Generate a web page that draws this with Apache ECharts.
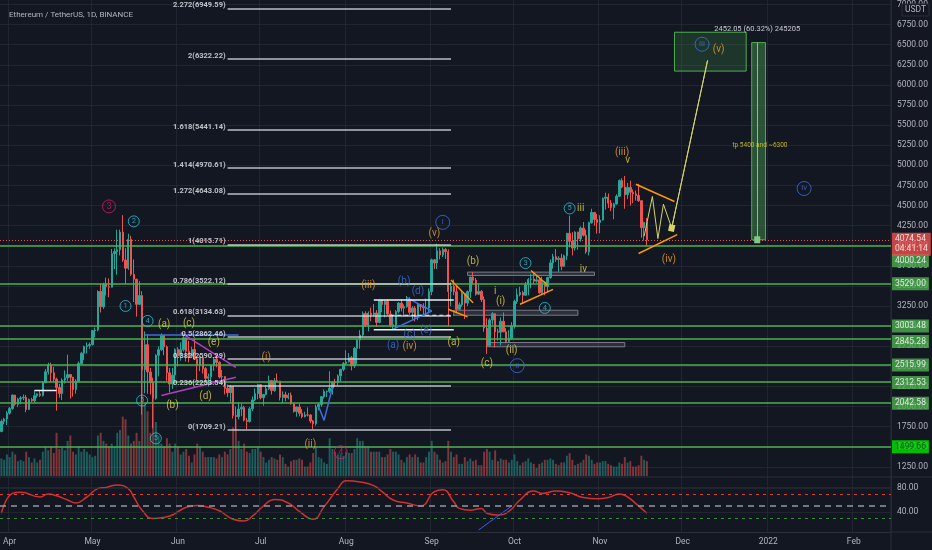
<!DOCTYPE html>
<html>
<head>
<meta charset="utf-8">
<title>ETHUSDT 1D</title>
<script src="https://cdn.jsdelivr.net/npm/echarts/dist/echarts.min.js"></script>
<style>
  html, body { margin: 0; padding: 0; background: #131722; }
  #chart { width: 932px; height: 550px; }
</style>
</head>
<body>
<div id="chart"></div>
<script>
// ---- data (daily candles 2021-03-29 .. 2021-11-18) ----
const firstDay = "2021-03-29";
const lastDay = "2022-02-14";
const firstOpen = 1691;

const closes = [
  1817, 1846, 1918,
  1977, 2143, 2028, 2093, 2108, 2115, 1964, 2088, 2071, 2135, 2158, 2139, 2299, 2432, 2514, 2420, 2340, 2236, 2163, 2330, 2357, 2398, 2364, 2211, 2316, 2535, 2664, 2746, 2757, 2772,
  2945, 2951, 3431, 3240, 3522, 3490, 3485, 3902, 3928, 3950, 4169, 3822, 3721, 4080, 3645, 3583, 3271, 3380, 2457, 2770, 2431, 2297, 2102, 2638, 2707, 2886, 2743, 2420, 2280, 2392, 2710,
  2630, 2707, 2855, 2688, 2630, 2711, 2590, 2515, 2610, 2472, 2352, 2372, 2510, 2590, 2549, 2367, 2373, 2228, 2172, 2250, 1890, 1875, 1970, 1990, 1830, 1816, 1972, 2083, 2161, 2273,
  2110, 2151, 2221, 2323, 2199, 2322, 2316, 2115, 2147, 2110, 2140, 2035, 1940, 1995, 1916, 1875, 1896, 1895, 1820, 1786, 1994, 2026, 2123, 2187, 2190, 2230, 2300, 2298, 2381, 2463, 2535,
  2555, 2608, 2507, 2725, 2827, 2890, 3157, 3013, 3163, 3140, 3164, 3047, 3323, 3268, 3310, 3150, 3012, 3018, 3182, 3287, 3225, 3242, 3321, 3172, 3225, 3112, 3268, 3244, 3226, 3226, 3430,
  3825, 3785, 3937, 3886, 3953, 3926, 3430, 3497, 3427, 3210, 3265, 3407, 3287, 3430, 3611, 3571, 3398, 3432, 3330, 2977, 2758, 3078, 3155, 2930, 2925, 3060, 2930, 2808, 2850, 3000,
  3307, 3390, 3419, 3385, 3515, 3580, 3587, 3560, 3576, 3415, 3545, 3493, 3605, 3787, 3865, 3830, 3845, 3745, 3875, 4155, 4055, 3972, 4170, 4085, 4220, 4130, 3925, 4285, 4415, 4325, 4290,
  4320, 4590, 4605, 4530, 4475, 4520, 4615, 4810, 4730, 4635, 4725, 4665, 4645, 4625, 4560, 4225, 4290, 4074.54
];
const highs = [
  1840, 1861, 1943,
  1995, 2150, 2145, 2110, 2130, 2150, 2145, 2100, 2109, 2200, 2165, 2200, 2315, 2468, 2545, 2546, 2495, 2360, 2282, 2350, 2450, 2645, 2405, 2370, 2340, 2560, 2680, 2758, 2799, 2798,
  2950, 2983, 3446, 3530, 3540, 3604, 3594, 3960, 3968, 4200, 4200, 4380, 3970, 4149, 4123, 3829, 3590, 3560, 3435, 2935, 2900, 2480, 2360, 2650, 2750, 2910, 2890, 2760, 2480, 2480, 2725,
  2740, 2800, 2890, 2860, 2817, 2744, 2840, 2620, 2645, 2620, 2490, 2410, 2520, 2610, 2630, 2565, 2455, 2375, 2275, 2265, 2255, 2000, 2050, 2035, 2010, 1860, 1995, 2125, 2225, 2285,
  2278, 2156, 2265, 2385, 2324, 2355, 2410, 2320, 2190, 2185, 2170, 2175, 2045, 2000, 2035, 1968, 1935, 1990, 1905, 1833, 2025, 2040, 2130, 2215, 2200, 2440, 2317, 2345, 2400, 2470, 2555,
  2700, 2665, 2630, 2740, 2840, 2950, 3183, 3185, 3185, 3230, 3275, 3200, 3325, 3330, 3325, 3335, 3195, 3135, 3200, 3300, 3335, 3270, 3375, 3360, 3250, 3250, 3285, 3275, 3285, 3345, 3470,
  3840, 3835, 4025, 3970, 3978, 3970, 3955, 3545, 3580, 3510, 3295, 3445, 3410, 3445, 3615, 3675, 3600, 3530, 3450, 3370, 3100, 3100, 3175, 3160, 2970, 3110, 3170, 2975, 2950, 3050,
  3330, 3470, 3490, 3440, 3550, 3600, 3650, 3660, 3630, 3615, 3615, 3560, 3615, 3830, 3900, 3960, 3870, 3900, 3890, 4160, 4375, 4170, 4180, 4175, 4240, 4295, 4200, 4300, 4460, 4420, 4395,
  4380, 4600, 4660, 4650, 4570, 4535, 4640, 4825, 4840, 4868, 4780, 4810, 4700, 4685, 4770, 4565, 4300, 4345
];
const lows = [
  1680, 1780, 1770,
  1900, 1960, 2010, 1996, 2030, 2080, 1930, 1960, 2057, 2050, 2110, 2120, 2125, 2290, 2400, 2305, 2305, 1950, 2112, 2080, 2287, 2320, 2100, 2125, 2160, 2300, 2520, 2580, 2660, 2720,
  2760, 2860, 2935, 3170, 3215, 3380, 3360, 3481, 3710, 3640, 3880, 3799, 3527, 3700, 3624, 3300, 3120, 3260, 1900, 2165, 2160, 2150, 1730, 2085, 2375, 2690, 2640, 2320, 2175, 2220, 2300,
  2500, 2570, 2685, 2560, 2550, 2616, 2580, 2330, 2440, 2410, 2300, 2250, 2320, 2445, 2490, 2350, 2315, 2150, 2120, 2050, 1850, 1700, 1840, 1880, 1815, 1720, 1800, 1945, 2070, 2090,
  2090, 2012, 2140, 2205, 2150, 2185, 2300, 2075, 2045, 2065, 2090, 2025, 1925, 1875, 1880, 1855, 1865, 1877, 1793, 1718, 1763, 1955, 1998, 2100, 2120, 2170, 2150, 2250, 2265, 2315, 2440,
  2515, 2547, 2450, 2480, 2530, 2720, 2870, 2990, 2935, 3060, 3120, 2990, 3035, 3175, 3110, 3130, 2985, 2950, 2960, 3160, 3185, 3120, 3230, 3140, 3080, 3060, 3075, 3190, 3150, 3145, 3160,
  3385, 3710, 3710, 3830, 3860, 3835, 3000, 3250, 3385, 3160, 3200, 3240, 3090, 3250, 3350, 3520, 3380, 3390, 3300, 2930, 2655, 2740, 3020, 2735, 2820, 2760, 2925, 2790, 2800, 2830,
  2970, 3275, 3370, 3275, 3375, 3385, 3470, 3530, 3540, 3405, 3400, 3385, 3420, 3590, 3715, 3800, 3675, 3695, 3735, 3820, 3980, 3880, 3940, 3950, 4050, 4115, 3900, 3880, 4275, 4250, 4150,
  4155, 4315, 4450, 4470, 4430, 4330, 4510, 4610, 4715, 4460, 4580, 4500, 4530, 4560, 4545, 4100, 4065, 3995
];
// volume, thousand ETH
const volumes = [
  650, 600, 800,
  700, 900, 800, 550, 600, 550, 900, 700, 500, 650, 500, 600, 900, 1100, 950, 1100, 850, 1600, 1000, 1050, 950, 1300, 1500, 900, 800, 1100, 900, 1000, 900, 800,
  700, 750, 1500, 1600, 1300, 1200, 1100, 1200, 1100, 1600, 1700, 2200, 2100, 1500, 1200, 1300, 1600, 1300, 4300, 2700, 2400, 1600, 3000, 2000, 1500, 1200, 1100, 1400, 1200, 900, 1200,
  1100, 800, 900, 1000, 750, 500, 800, 1200, 1100, 900, 700, 700, 700, 700, 650, 800, 700, 900, 800, 1000, 1800, 2100, 1300, 1000, 1200, 900, 850, 1000, 1000, 1100,
  900, 700, 500, 600, 700, 650, 600, 800, 700, 450, 350, 550, 600, 600, 650, 600, 350, 350, 500, 850, 1100, 700, 650, 500, 450, 1400, 1000, 900, 800, 800, 750,
  900, 850, 850, 1000, 1400, 1300, 1300, 1100, 1100, 900, 900, 900, 900, 700, 700, 800, 1000, 900, 900, 800, 600, 500, 700, 800, 700, 800, 700, 500, 500, 700, 900,
  1300, 900, 800, 600, 500, 550, 1300, 900, 700, 800, 450, 450, 700, 550, 650, 550, 600, 400, 400, 900, 1000, 900, 600, 950, 550, 650, 600, 600, 500, 600,
  800, 550, 400, 500, 550, 650, 500, 450, 300, 450, 500, 600, 600, 650, 600, 450, 400, 500, 500, 750, 850, 600, 400, 450, 500, 600, 800, 750, 600, 450, 500,
  500, 550, 550, 450, 400, 350, 350, 500, 450, 700, 500, 550, 350, 350, 400, 750, 600, 550
];
const rsiPoints = [
  ["2021-03-29", 38], ["2021-04-02", 71], ["2021-04-05", 73], ["2021-04-12", 65], ["2021-04-15", 70],
  ["2021-04-18", 67], ["2021-04-22", 60], ["2021-04-25", 55], ["2021-04-29", 65], ["2021-05-03", 79],
  ["2021-05-06", 81], ["2021-05-10", 85], ["2021-05-14", 79], ["2021-05-16", 65], ["2021-05-19", 43],
  ["2021-05-23", 29], ["2021-05-27", 31], ["2021-05-30", 35], ["2021-06-04", 48], ["2021-06-08", 51],
  ["2021-06-12", 48], ["2021-06-16", 42], ["2021-06-21", 28], ["2021-06-25", 25], ["2021-06-28", 33],
  ["2021-07-02", 50], ["2021-07-06", 61], ["2021-07-11", 55], ["2021-07-15", 41], ["2021-07-20", 28],
  ["2021-07-24", 49], ["2021-07-29", 79], ["2021-08-01", 92], ["2021-08-06", 90], ["2021-08-11", 84],
  ["2021-08-14", 74], ["2021-08-18", 60], ["2021-08-23", 55], ["2021-08-28", 50], ["2021-09-02", 74],
  ["2021-09-05", 77], ["2021-09-09", 57], ["2021-09-11", 46], ["2021-09-15", 43], ["2021-09-19", 46],
  ["2021-09-21", 38], ["2021-09-25", 35], ["2021-09-29", 41], ["2021-10-03", 60], ["2021-10-08", 75],
  ["2021-10-11", 71], ["2021-10-16", 75], ["2021-10-21", 72], ["2021-10-26", 64], ["2021-10-31", 62],
  ["2021-11-04", 64], ["2021-11-08", 70], ["2021-11-11", 65], ["2021-11-14", 54], ["2021-11-18", 38]
];
const rsiTrend = [["2021-09-18", 10], ["2021-09-30", 50]];
const rsiLevels = [70, 50, 30];

// ---- drawings ----
const supportLevels = [4000.24, 3529.00, 3003.48, 2845.28, 2515.99, 2312.53, 2042.58, 1499.66];
const lastPrice = 4074.54;
const countdown = "04:41:14";
const fibRatios = ["2.272", "2", "1.618", "1.414", "1.272", "1", "0.786", "0.618", "0.5", "0.382", "0.236", "0"];
const fibPrices = [6949.59, 6322.22, 5441.14, 4970.61, 4643.08, 4015.71, 3522.12, 3134.63, 2862.46, 2590.29, 2253.54, 1709.21];
const fibSpan = ["2021-06-19", "2021-09-08"];

const yellowLabels = [
  ["2021-05-27", 3016, "(a)"], ["2021-06-05", 3028, "(c)"], ["2021-06-14", 2793, "(e)"],
  ["2021-05-30", 2014, "(b)"], ["2021-06-11", 2125, "(d)"],
  ["2021-09-09", 2793, "(a)"], ["2021-09-16", 3809, "(b)"], ["2021-09-21", 2534, "(c)"],
  ["2021-09-26", 3302, "(i)"], ["2021-09-30", 2695, "(ii)"], ["2021-09-24", 3437, "i"],
  ["2021-10-26", 3709, "iv"], ["2021-10-25", 4464, "iii"], ["2021-11-11", 5061, "v"]
];
const orangeLabels = [
  ["2021-07-03", 2608, "(i)"], ["2021-07-19", 1531, "(ii)"], ["2021-08-09", 3511, "(iii)"],
  ["2021-08-24", 2744, "(iv)"], ["2021-09-02", 4155, "(v)"], ["2021-11-09", 5160, "(iii)"],
  ["2021-11-26", 3833, "(iv)"], ["2021-12-14", 6444, "(v)"]
];
const blueLabels = [
  ["2021-08-18", 2756, "(a)"], ["2021-08-22", 3560, "(b)"], ["2021-08-24", 2893, "(c)"],
  ["2021-08-27", 3437, "(d)"], ["2021-08-30", 2942, "(e)"]
];
const blueCircles = [
  ["2021-09-05", 4291, "i"], ["2021-10-02", 2509, "ii"], ["2021-12-08", 6506, "iii"], ["2022-01-14", 4712, "iv"]
];
const tealCircles = [
  ["2021-05-16", 4303, "2"], ["2021-05-13", 3251, "1"], ["2021-05-21", 3065, "4"], ["2021-05-24", 1605, "5"],
  ["2021-05-19", 2075, "5"], ["2021-10-05", 3784, "3"], ["2021-10-12", 3227, "4"], ["2021-10-21", 4464, "5"]
];
const pinkCircles = [["2021-05-07", 4489, "3"], ["2021-07-30", 1432, "4"]];

const orangePaths = [
  [["2021-11-14", 4765], ["2021-11-28", 4551]],
  [["2021-11-15", 3904], ["2021-11-29", 4139]],
  [["2021-10-07", 3693], ["2021-10-13", 3511]],
  [["2021-10-03", 3272], ["2021-10-15", 3458]],
  [["2021-09-08", 3573], ["2021-09-16", 3292]],
  [["2021-09-07", 3210], ["2021-09-14", 3115]]
];
const magentaPaths = [
  [["2021-06-02", 2921], ["2021-06-22", 2488]],
  [["2021-05-26", 2138], ["2021-06-22", 2364]]
];
const bluePaths = [
  [["2021-05-20", 2890], ["2021-06-23", 2890]],
  [["2021-08-23", 3354], ["2021-09-01", 3189], ["2021-08-18", 2963]],
  [["2021-07-22", 2001], ["2021-07-24", 1828], ["2021-07-27", 2240]]
];
const whitePaths = [
  [["2021-04-10", 2199], ["2021-04-18", 2199]],
  [["2021-08-11", 3326], ["2021-09-09", 3326]],
  [["2021-08-11", 2954], ["2021-09-09", 2954]]
];
const whiteDashedPaths = [[["2021-08-17", 3136], ["2021-09-09", 3136]]];
const projection = [
  ["2021-11-17", 4118], ["2021-11-20", 4613], ["2021-11-22", 4089],
  ["2021-11-24", 4517], ["2021-11-27", 4220], ["2021-12-10", 6304]
];
const greyBoxes = [
  [["2021-09-14", 3672], ["2021-10-30", 3631]],
  [["2021-09-09", 3198], ["2021-10-24", 3136]],
  [["2021-09-21", 2797], ["2021-11-10", 2744]]
];
const targetBox = [["2021-11-28", 6655], ["2021-12-24", 6172]];
const rangeBox = [["2021-12-26", 4074.54], ["2021-12-31", 6526.59]];
const rangeMid = "2021-12-28";
const rangeText = "2452.05 (60.32%) 245205";
const noteText = "tp 5400 and ~6300";

// ---- build ----
const days = [];
for (let t = Date.parse(firstDay); t <= Date.parse(lastDay); t += 86400000) {
  days.push(new Date(t).toISOString().slice(0, 10));
}
const N = days.length;
const ix = (d) => days.indexOf(d);
const monthNames = ["2022", "Feb", "Mar", "Apr", "May", "Jun", "Jul", "Aug", "Sep", "Oct", "Nov", "Dec"];
const isMonthStart = (i, v) => v.slice(8) === "01";

const candles = closes.map((c, i) => [i ? closes[i - 1] : firstOpen, c, lows[i], highs[i]]);
const UP = "#26a69a";
const DOWN = "#ef5350";
const volumeBars = volumes.map((v, i) => ({
  value: v,
  itemStyle: { color: candles[i][1] >= candles[i][0] ? "rgba(38,166,154,0.5)" : "rgba(239,83,80,0.5)" },
}));

const FONT = "Roboto, 'DejaVu Sans', sans-serif";
const AXIS_TEXT = "#b2b5be";
const GRID_LINE = "rgba(42,46,57,0.6)";

const pt = (p) => [ix(p[0]), p[1]];

function textSeries(rows, color, size) {
  return {
    type: "scatter", xAxisIndex: 1, yAxisIndex: 0, symbolSize: 0, z: 7, silent: true, clip: false,
    data: rows.map((r) => [ix(r[0]), r[1], r[2]]),
    label: { show: true, position: "inside", formatter: (p) => p.data[2], color, fontSize: size, fontFamily: FONT },
  };
}
function circleSeries(rows, color, size, fontSize) {
  return {
    type: "scatter", xAxisIndex: 1, yAxisIndex: 0, symbol: "circle", symbolSize: size, z: 7, silent: true, clip: false,
    itemStyle: { color: "rgba(0,0,0,0)", borderColor: color, borderWidth: 1 },
    data: rows.map((r) => [ix(r[0]), r[1], r[2]]),
    label: { show: true, position: "inside", formatter: (p) => p.data[2], color, fontSize, fontFamily: FONT },
  };
}
function pathSeries(points, color, width, type) {
  return {
    type: "line", xAxisIndex: 1, yAxisIndex: 0, symbol: "none", z: 6, silent: true,
    data: points.map(pt),
    lineStyle: { color, width, type: type || "solid" },
  };
}
function tag(value, text, bg, fg, dy) {
  return {
    value: [N - 0.5, value],
    label: { formatter: text, backgroundColor: bg, color: fg, offset: [0, dy || 0] },
  };
}

const levelColor = "#4caf50";
const tagOffsets = { 4000.24: 15, 2845.28: 3, 2312.53: 1 };

const series = [
  {
    name: "ETHUSDT", type: "candlestick", xAxisIndex: 0, yAxisIndex: 0, data: candles, barWidth: "70%", z: 3,
    itemStyle: { color: UP, color0: DOWN, borderColor: UP, borderColor0: DOWN, borderWidth: 1 },
  },
  { name: "Volume", type: "bar", xAxisIndex: 2, yAxisIndex: 1, data: volumeBars, barWidth: "70%", z: 1 },
  {
    name: "RSI", type: "line", xAxisIndex: 3, yAxisIndex: 2, data: rsiPoints, smooth: 0.5, symbol: "none",
    lineStyle: { color: "#d32f2f", width: 1.5 }, z: 4,
    markLine: {
      silent: true, symbol: ["none", "none"], label: { show: false },
      data: [
        { yAxis: rsiLevels[0], lineStyle: { color: "#e53935", type: [3, 4], width: 1 } },
        { yAxis: rsiLevels[1], lineStyle: { color: "#9598a1", type: [6, 5], width: 1.5 } },
        { yAxis: rsiLevels[2], lineStyle: { color: "#388e3c", type: [3, 4], width: 1 } },
        { yAxis: 80, lineStyle: { color: GRID_LINE, type: "solid", width: 1 } },
        { yAxis: 40, lineStyle: { color: GRID_LINE, type: "solid", width: 1 } },
      ],
    },
  },
  { type: "line", xAxisIndex: 3, yAxisIndex: 2, data: rsiTrend, symbol: "none", lineStyle: { color: "#3d5afe", width: 1 }, z: 4 },
  // drawing host: levels, fib, boxes
  {
    type: "line", xAxisIndex: 1, yAxisIndex: 0, data: [], z: 5, silent: true,
    markLine: {
      silent: true, symbol: ["none", "none"], label: { show: false }, animation: false,
      data: [
        ...supportLevels.map((v) => ({ yAxis: v, lineStyle: { color: levelColor, width: 1.5, type: "solid" } })),
        { yAxis: lastPrice, lineStyle: { color: "#ef5350", width: 1, type: [1, 2] } },
        ...fibPrices.map((p) => [
          { coord: [ix(fibSpan[0]), p], lineStyle: { color: "rgba(215,218,225,0.85)", width: 1.5, type: "solid" } },
          { coord: [ix(fibSpan[1]), p] },
        ]),
        [
          { coord: [ix(rangeMid), rangeBox[0][1]], lineStyle: { color: "#81c784", width: 1, type: "solid" }, symbol: ["none", "arrow"], symbolSize: [6, 7] },
          { coord: [ix(rangeMid), rangeBox[1][1]] },
        ],
        [
          { coord: pt(projection[projection.length - 2]), lineStyle: { color: "#d4d46a", width: 1, type: "solid" }, symbol: ["none", "arrow"], symbolSize: [6, 7] },
          { coord: pt(projection[projection.length - 1]) },
        ],
      ],
    },
    markArea: {
      silent: true, label: { show: false },
      data: [
        ...greyBoxes.map((b) => [
          { coord: pt(b[0]), itemStyle: { color: "rgba(120,123,134,0.25)", borderColor: "#787b86", borderWidth: 1 } },
          { coord: pt(b[1]) },
        ]),
        [
          { coord: pt(targetBox[0]), itemStyle: { color: "rgba(76,175,80,0.2)", borderColor: "#4caf50", borderWidth: 1 } },
          { coord: pt(targetBox[1]) },
        ],
        [
          { coord: pt(rangeBox[0]), itemStyle: { color: "rgba(76,175,80,0.4)", borderColor: "#4caf50", borderWidth: 1 } },
          { coord: pt(rangeBox[1]) },
        ],
      ],
    },
  },
  ...orangePaths.map((p) => pathSeries(p, "#ff9800", 1.5)),
  ...magentaPaths.map((p) => pathSeries(p, "#b03fc0", 1.5)),
  ...bluePaths.map((p) => pathSeries(p, "#3d6fe0", 1.5)),
  ...whitePaths.map((p) => pathSeries(p, "#eceff4", 1.5)),
  ...whiteDashedPaths.map((p) => pathSeries(p, "#eceff4", 1.2, [4, 3])),
  pathSeries(projection, "#d4d46a", 1),
  // fib labels
  {
    type: "scatter", xAxisIndex: 1, yAxisIndex: 0, symbolSize: 0, z: 7, silent: true, clip: false,
    data: fibPrices.map((p, i) => [ix(fibSpan[0]), p, fibRatios[i] + "(" + p.toFixed(2) + ")"]),
    label: {
      show: true, position: "left", distance: 2, offset: [0, -3], formatter: (p) => p.data[2],
      color: "#e6e8ee", fontSize: 7.5, fontWeight: "bold", fontFamily: FONT,
    },
  },
  textSeries(yellowLabels, "#e3d33f", 10),
  textSeries(orangeLabels, "#f0a030", 10),
  textSeries(blueLabels, "#3d6fe0", 10),
  circleSeries(tealCircles, "#26c6da", 11, 7.5),
  circleSeries(pinkCircles, "#d81b60", 13, 9),
  circleSeries(blueCircles, "#3d6fe0", 14, 8),
  {
    type: "scatter", xAxisIndex: 1, yAxisIndex: 0, symbolSize: 0, z: 7, silent: true, clip: false,
    data: [
      { value: [ix(rangeMid), 6700], label: { formatter: rangeText, color: "#f0f3fa", fontSize: 7.5 } },
      { value: [ix(rangeMid) + 1, 5244], label: { formatter: noteText, color: "#e3d33f", fontSize: 6.5 } },
    ],
    label: { show: true, position: "inside", fontFamily: FONT },
  },
  // price tags on the scale
  {
    type: "scatter", xAxisIndex: 1, yAxisIndex: 0, symbolSize: 0, z: 9, silent: true, clip: false,
    data: [
      ...supportLevels.map((v) =>
        v === 1499.66
          ? tag(v, v.toFixed(2), "#00e600", "#0b3d0b", 0)
          : tag(v, v.toFixed(2), "#4caf50", "#ffffff", tagOffsets[v])
      ),
      tag(lastPrice, lastPrice.toFixed(2) + "\n" + countdown, "#f05350", "#ffffff", 4.5),
    ],
    label: { show: true, position: "right", distance: 1, padding: [2, 3, 1, 3], fontSize: 8.5, fontFamily: FONT, lineHeight: 10 },
  },
  { type: "line", xAxisIndex: 4, yAxisIndex: 3, data: [] },
];

const chart = echarts.init(document.getElementById("chart"));
chart.setOption({
  backgroundColor: "#131722",
  animation: false,
  title: {
    text: "Ethereum / TetherUS, 1D, BINANCE", left: 4, top: 6,
    textStyle: { color: AXIS_TEXT, fontSize: 8, fontWeight: "normal", fontFamily: FONT },
  },
  grid: [
    { left: 0, right: 41, top: 2, height: 485 },
    { left: 0, right: 41, top: 341, height: 135 },
    { left: 0, right: 41, top: 464, height: 72 },
    { left: 0, right: 41, top: 0, height: 532 },
  ],
  xAxis: [
    { type: "category", gridIndex: 0, data: days, boundaryGap: true, show: false },
    { type: "value", gridIndex: 0, min: -0.5, max: N - 0.5, show: false },
    { type: "category", gridIndex: 1, data: days, boundaryGap: true, show: false },
    { type: "category", gridIndex: 2, data: days, boundaryGap: true, show: false },
    {
      type: "category", gridIndex: 3, data: days, boundaryGap: true,
      axisLine: { lineStyle: { color: "#2a2e39" } },
      axisTick: { show: false },
      axisLabel: {
        interval: isMonthStart, margin: 5, color: AXIS_TEXT, fontSize: 8.5, fontFamily: FONT,
        formatter: (v) => monthNames[+v.slice(5, 7) - 1],
      },
      splitLine: { show: true, interval: isMonthStart, lineStyle: { color: GRID_LINE } },
    },
  ],
  yAxis: [
    {
      type: "value", gridIndex: 0, position: "right", min: 1000, max: 7000, interval: 250,
      axisLine: { show: false }, axisTick: { show: false },
      axisLabel: {
        margin: 6, color: AXIS_TEXT, fontSize: 8.5, fontFamily: FONT,
        formatter: (v) => (v >= 1250 ? v.toFixed(2) : ""),
      },
      splitLine: { lineStyle: { color: GRID_LINE } },
    },
    { type: "value", gridIndex: 1, min: 0, max: 5000, show: false },
    {
      type: "value", gridIndex: 2, position: "right", min: 0, max: 120, interval: 40,
      axisLine: { show: false }, axisTick: { show: false }, splitLine: { show: false },
      axisLabel: {
        margin: 6, color: AXIS_TEXT, fontSize: 8.5, fontFamily: FONT,
        formatter: (v) => (v === 40 || v === 80 ? v.toFixed(2) : ""),
      },
    },
    { type: "value", gridIndex: 3, show: false },
  ],
  graphic: [
    { type: "line", shape: { x1: 0, y1: 477, x2: 932, y2: 477 }, style: { stroke: "#2a2e39", lineWidth: 1 }, silent: true },
    { type: "line", shape: { x1: 891, y1: 0, x2: 891, y2: 550 }, style: { stroke: "#2a2e39", lineWidth: 1 }, silent: true },
    { type: "line", shape: { x1: 891, y1: 532, x2: 932, y2: 532 }, style: { stroke: "#2a2e39", lineWidth: 1 }, silent: true },
    {
      type: "rect", shape: { x: 902, y: 4, width: 27, height: 12 }, z: 20,
      style: { fill: "#131722", stroke: "#2a2e39", lineWidth: 1 }, silent: true,
    },
    {
      type: "text", x: 915.5, y: 10, z: 21, silent: true,
      style: { text: "USDT", fill: AXIS_TEXT, fontSize: 8.5, fontFamily: FONT, align: "center", verticalAlign: "middle" },
    },
  ],
  series,
});
</script>
</body>
</html>
